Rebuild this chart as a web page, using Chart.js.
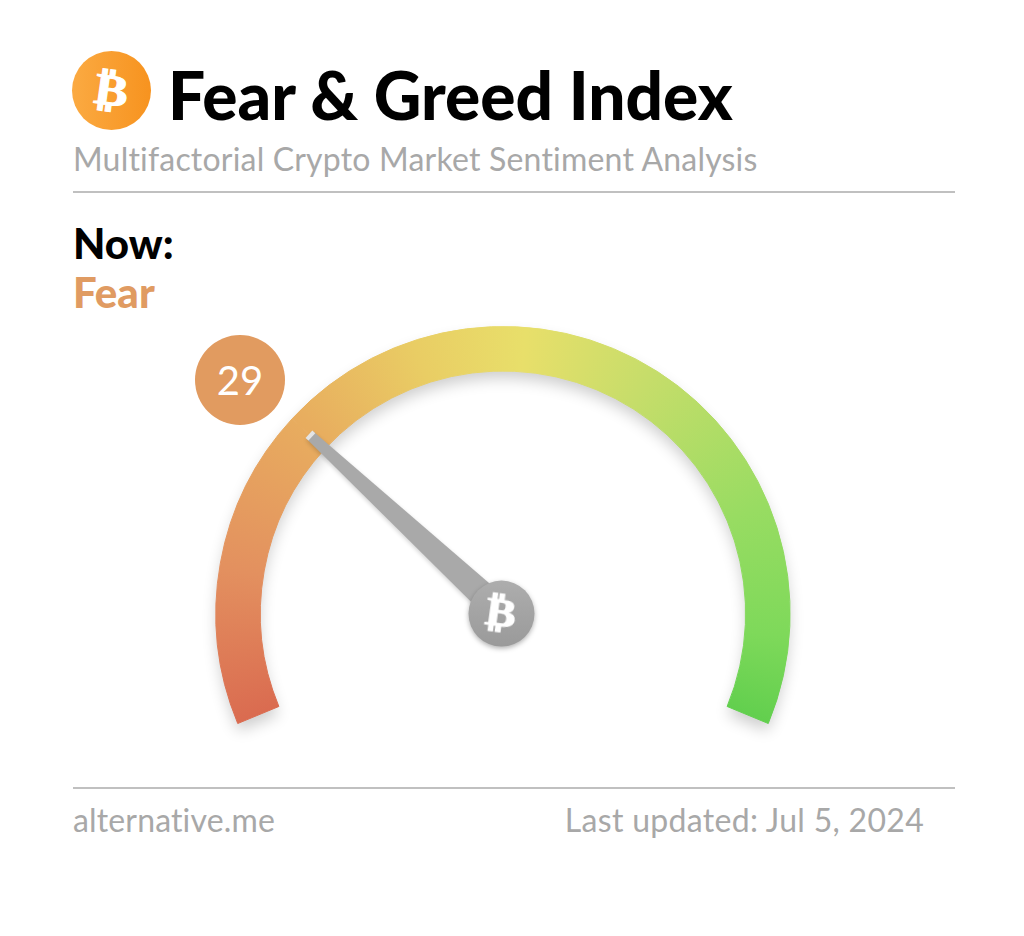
<!DOCTYPE html>
<html>
<head>
<meta charset="utf-8">
<title>Fear &amp; Greed Index</title>
<script src="https://cdn.jsdelivr.net/npm/chart.js@4"></script>
<style>
  html, body { margin: 0; background: #fff; }
  body { width: 1024px; height: 936px; position: relative; overflow: hidden; font-family: Lato, sans-serif; font-variant-ligatures: none; filter: blur(.45px); }
  .t { position: absolute; white-space: nowrap; line-height: 1; }
  #title { left: 168px; top: 62px; font-size: 65.8px; font-weight: 900; color: #000; }
  #sub { left: 73px; top: 143px; font-size: 32px; color: #a8a8a8; letter-spacing: .2px; }
  #now { left: 73px; top: 222px; font-size: 42px; font-weight: 900; color: #000; }
  #state { left: 73px; top: 271px; font-size: 42px; font-weight: 900; color: #e09b62; }
  #site { left: 73px; top: 804px; font-size: 32px; color: #a8a8a8; letter-spacing: .15px; }
  #updated { right: 100px; top: 804px; font-size: 32px; color: #a8a8a8; letter-spacing: .3px; }
  .rule { position: absolute; left: 73px; width: 882px; height: 2px; background: #c0c0c0; }
  #logo { position: absolute; left: 72px; top: 51px; width: 79px; height: 79px; border-radius: 50%;
          background: linear-gradient(90deg, #fbaa42, #f7931f); }
  .btc { position: absolute; color: #fff; font-family: "DejaVu Sans"; font-weight: 700; text-align: center; transform: rotate(8deg) scaleX(1.15); line-height: 1; -webkit-text-stroke: 1px #fff; }
  #logo .btc { left: 0; top: 17px; width: 79px; font-size: 44px; }
  #badge { position: absolute; left: 195px; top: 335px; width: 90px; height: 90px; border-radius: 50%;
           background: #e19b60; color: #fff; font-size: 40px; font-weight: 400; line-height: 90px; text-align: center; }
  #gauge { position: absolute; left: 185px; top: 296px; }
  #hubmark { left: 471px; top: 592px; width: 60px; font-size: 40px; }
</style>
</head>
<body>
<div id="logo"><span class="btc">₿</span></div>
<div class="t" id="title">Fear &amp; Greed Index</div>
<div class="t" id="sub">Multifactorial Crypto Market Sentiment Analysis</div>
<div class="rule" style="top:191px"></div>
<div class="t" id="now">Now:</div>
<div class="t" id="state">Fear</div>
<canvas id="gauge" width="636" height="458" style="width:636px;height:458px"></canvas>
<div id="badge">29</div>
<span class="btc" id="hubmark">₿</span>
<div class="rule" style="top:787px"></div>
<div class="t" id="site">alternative.me</div>
<div class="t" id="updated">Last updated: Jul 5, 2024</div>

<script>
const labels = ['Index', 'Rest'];
const indexValue = [29, 71];
const gaugeColors = ['#da6b50', '#e3905f', '#e8ae5f', '#e9cd64', '#e8df6a', '#c6dd6a', '#98dc62', '#7ed95a', '#62cf4e'];
const gaugeStops = [0, .14, .3, .42, .52, .64, .8, .92, 1];

const sweep = 225;
const startDeg = 157.5;

function gaugeFill(chart) {
  const area = chart.chartArea;
  if (!area) return '#e8c060';
  // the arcs are not placed yet when this runs, so take the centre from the chart area
  const r = (area.right - area.left) / 2;
  const g = chart.ctx.createConicGradient(startDeg * Math.PI / 180, area.left + r, area.top + r);
  gaugeColors.forEach((c, i) => g.addColorStop(gaugeStops[i] * sweep / 360, c));
  g.addColorStop(sweep / 360 + .001, gaugeColors[gaugeColors.length - 1]);
  g.addColorStop(.99, gaugeColors[0]);
  return g;
}

const gaugeDressing = {
  id: 'gaugeDressing',
  beforeDatasetsDraw(chart) {
    // soft shadow under the whole band
    const [a, b] = chart.getDatasetMeta(0).data;
    const ctx = chart.ctx;
    ctx.save();
    ctx.shadowColor = 'rgba(0,0,0,.2)';
    ctx.shadowBlur = 15;
    ctx.shadowOffsetY = 8;
    ctx.fillStyle = '#fff';
    ctx.beginPath();
    ctx.arc(a.x, a.y, a.outerRadius - 1, a.startAngle, b.endAngle);
    ctx.arc(a.x, a.y, a.innerRadius + 1, b.endAngle, a.startAngle, true);
    ctx.closePath();
    ctx.fill();
    ctx.restore();
  },
  afterDatasetsDraw(chart) {
    const a = chart.getDatasetMeta(0).data[0];
    const ctx = chart.ctx;
    const ang = a.endAngle;
    const tip = a.outerRadius * .917;
    // needle
    ctx.save();
    ctx.translate(a.x, a.y);
    ctx.rotate(ang);
    ctx.shadowColor = 'rgba(0,0,0,.18)';
    ctx.shadowBlur = 4;
    ctx.shadowOffsetY = 2;
    ctx.fillStyle = '#a9a9a9';
    ctx.beginPath();
    ctx.moveTo(0, -14);
    ctx.lineTo(tip, -5);
    ctx.lineTo(tip, 5);
    ctx.lineTo(0, 14);
    ctx.closePath();
    ctx.fill();
    ctx.shadowColor = 'transparent';
    ctx.fillStyle = '#e4e4e4';
    ctx.fillRect(tip - 3, -5, 4, 10);
    ctx.restore();
    // hub
    ctx.save();
    ctx.shadowColor = 'rgba(0,0,0,.3)';
    ctx.shadowBlur = 5;
    ctx.shadowOffsetY = 2;
    const g = ctx.createLinearGradient(0, a.y - 33, 0, a.y + 33);
    g.addColorStop(0, '#adadad');
    g.addColorStop(1, '#9a9a9a');
    ctx.fillStyle = g;
    ctx.beginPath();
    ctx.arc(a.x - 1.5, a.y, 33, 0, Math.PI * 2);
    ctx.fill();
    ctx.restore();
  }
};

new Chart(document.getElementById('gauge'), {
  type: 'doughnut',
  data: {
    labels,
    datasets: [{
      data: indexValue,
      backgroundColor: ctx => gaugeFill(ctx.chart),
      borderColor: ctx => gaugeFill(ctx.chart),
      borderWidth: 1,
      hoverOffset: 0
    }]
  },
  options: {
    responsive: false,
    animation: false,
    rotation: -112.5,
    circumference: sweep,
    cutout: '84.5%',
    layout: { padding: { left: 30, right: 30, top: 30, bottom: 30 } },
    plugins: { legend: { display: false }, tooltip: { enabled: false } },
    events: []
  },
  plugins: [gaugeDressing]
});
</script>
</body>
</html>
